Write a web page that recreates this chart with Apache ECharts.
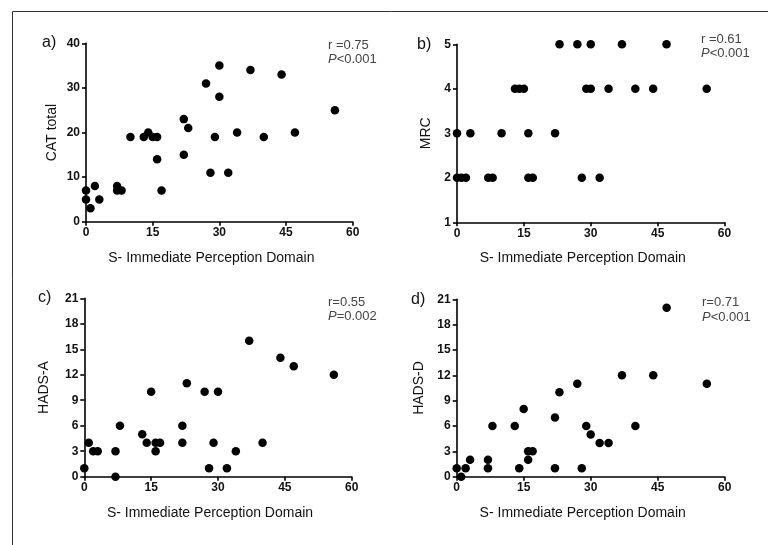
<!DOCTYPE html>
<html><head><meta charset="utf-8">
<script src="https://cdn.jsdelivr.net/npm/echarts@6/dist/echarts.min.js"></script>
<style>html,body{margin:0;padding:0;background:#fff}#c{width:768px;height:545px}</style>
</head><body><div id="c"></div>
<script>
// Panel a: CAT total
const xA = [0,0,1,2,3,7,7,8,10,13,14,15,16,16,17,22,23,22,27,28,29,30,30,32,34,37,40,44,47,56];
const catTotal = [7,5,3,8,5,8,7,7,19,19,20,19,19,14,7,23,21,15,31,11,19,35,28,11,20,34,19,33,20,25];
// Panel b: MRC
const xB = [23,27,30,37,47, 13,14,15,29,30,34,40,44,56, 0,3,10,16,22, 0,1,2,7,8,16,17,28,32];
const mrc = [5,5,5,5,5, 4,4,4,4,4,4,4,4,4, 3,3,3,3,3, 2,2,2,2,2,2,2,2,2];
// Panel c: HADS-A
const xC = [0,1,2,3,7,7,8,13,14,15,16,16,17,22,22,23,27,28,29,30,32,34,37,40,44,47,56];
const hadsA = [1,4,3,3,3,0,6,5,4,10,3,4,4,6,4,11,10,1,4,10,1,3,16,4,14,13,12];
// Panel d: HADS-D
const xD = [0,1,2,3,7,7,8,13,14,15,16,16,17,22,22,23,27,28,29,30,32,34,37,40,44,47,56];
const hadsD = [1,0,1,2,2,1,6,6,1,8,2,3,3,7,1,10,11,1,6,5,4,4,12,6,12,20,11];

const xTicks = [0,15,30,45,60];
const panelLabels = ['a)','b)','c)','d)'];
const yNames = ['CAT total','MRC','HADS-A','HADS-D'];
const stats = [['r =0.75','<0.001'],['r =0.61','<0.001'],['r=0.55','=0.002'],['r=0.71','<0.001']];

const zip = (xs, ys) => xs.map((x,i)=>[x, ys[i]]);
const seriesData = [zip(xA,catTotal), zip(xB,mrc), zip(xC,hadsA), zip(xD,hadsD)];

const grids = [
  {left:86, top:43.3, width:266.7, height:178.4},
  {left:457, top:44.3, width:267.5, height:178},
  {left:84.3, top:298.3, width:267.4, height:178.4},
  {left:456.7, top:299.3, width:268, height:177.4}
];
const yCfg = [
  {min:0,max:40,interval:10,gap:27},
  {min:1,max:5,interval:1,gap:24},
  {min:0,max:21,interval:3,gap:33},
  {min:0,max:21,interval:3,gap:31}
];
const FONT = '"Liberation Sans", Arial, sans-serif';
const axLine = {lineStyle:{color:'#000',width:1.6}};
const axTick = {length:4,lineStyle:{color:'#000',width:1.6}};

const option = {
  animation:false,
  backgroundColor:'#fff',
  grid: grids.map(g=>Object.assign({containLabel:false},g)),
  xAxis: grids.map((g,i)=>({
    gridIndex:i, type:'value', min:0, max:60, interval:15,
    name:'S- Immediate Perception Domain', nameLocation:'middle', nameGap:29,
    nameTextStyle:{fontFamily:FONT,fontSize:14,color:'#111',padding:[0,16,0,0]},
    axisLine:axLine, axisTick:axTick, splitLine:{show:false},
    axisLabel:{margin:5,fontFamily:FONT,fontSize:12,fontWeight:'bold',color:'#111',
      formatter:v=>xTicks.includes(v)?String(v):''}
  })),
  yAxis: grids.map((g,i)=>({
    gridIndex:i, type:'value', min:yCfg[i].min, max:yCfg[i].max, interval:yCfg[i].interval,
    name:yNames[i], nameLocation:'middle', nameGap:yCfg[i].gap,
    nameTextStyle:{fontFamily:FONT,fontSize:14,color:'#111'},
    axisLine:axLine, axisTick:axTick, splitLine:{show:false},
    axisLabel:{margin:6,fontFamily:FONT,fontSize:12,fontWeight:'bold',color:'#111'}
  })),
  series: seriesData.map((d,i)=>({
    type:'scatter', xAxisIndex:i, yAxisIndex:i, data:d,
    symbol:'circle', symbolSize:8.5, itemStyle:{color:'#000',opacity:1}, clip:false
  })),
  graphic: [
    {type:'line', shape:{x1:12.5,y1:11.5,x2:768,y2:11.5}, style:{stroke:'#333',lineWidth:1}},
    {type:'line', shape:{x1:12.5,y1:11.5,x2:12.5,y2:545}, style:{stroke:'#333',lineWidth:1}},
  ].concat(
    [[42,43],[417,45],[38,298],[411,300]].map((p,i)=>({
      type:'text', x:p[0], y:p[1],
      style:{text:panelLabels[i], font:'16px '+FONT, fill:'#111', textVerticalAlign:'middle'}
    })),
    [[328,45],[701,39],[328,302],[702,302]].map((p,i)=>({
      type:'text', x:p[0], y:p[1],
      style:{text:stats[i][0], font:'13px '+FONT, fill:'#444', textVerticalAlign:'middle'}
    })),
    [[328,59],[701,53],[328,316],[702,317]].map((p,i)=>({
      type:'text', x:p[0], y:p[1],
      style:{text:'{i|P}'+stats[i][1], font:'13px '+FONT, fill:'#444', textVerticalAlign:'middle',
        rich:{i:{fontStyle:'italic',fontSize:13,fontFamily:FONT,fill:'#444',color:'#444'}}}
    }))
  )
};
echarts.init(document.getElementById('c'),null,{renderer:'canvas'}).setOption(option);
</script></body></html>
